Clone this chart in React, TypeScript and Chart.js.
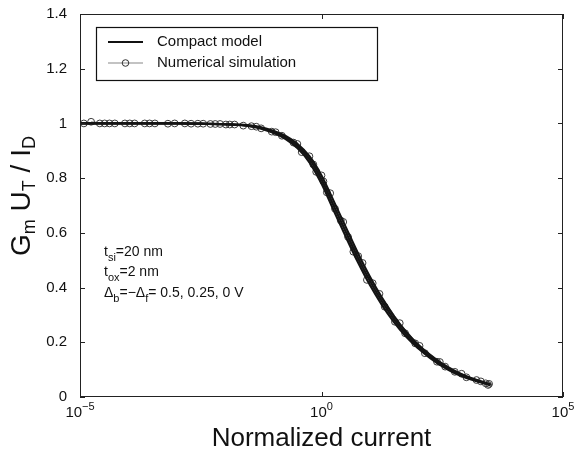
import React, { useEffect, useRef } from 'react';
import { Chart, registerables } from 'chart.js';

Chart.register(...registerables);

const FONT = '"Liberation Sans", Arial, Helvetica, sans-serif';

// log10 of normalized current for the compact-model curves
const modelLogCurrent = [-5, -4, -3, -2.5, -2, -1.5, -1.25, -1, -0.75, -0.5, -0.25, 0, 0.25, 0.5, 0.75, 1, 1.25, 1.5, 1.75, 2, 2.25, 2.5, 2.75, 3, 3.25, 3.5];
// compact model, delta = 0.5 V
const modelGain05 = [1.0, 1.0, 1.0, 0.999, 0.996, 0.99, 0.981, 0.966, 0.944, 0.91, 0.858, 0.78, 0.683, 0.587, 0.494, 0.41, 0.337, 0.274, 0.221, 0.178, 0.142, 0.112, 0.088, 0.07, 0.056, 0.043];
// compact model, delta = 0.25 V
const modelGain025 = [1.0, 1.0, 1.0, 0.999, 0.997, 0.992, 0.984, 0.97, 0.95, 0.918, 0.87, 0.795, 0.7, 0.605, 0.51, 0.425, 0.35, 0.285, 0.23, 0.185, 0.148, 0.117, 0.092, 0.073, 0.058, 0.045];
// compact model, delta = 0 V
const modelGain0 = [1.0, 1.0, 1.0, 0.999, 0.997, 0.993, 0.986, 0.973, 0.955, 0.925, 0.88, 0.81, 0.717, 0.622, 0.527, 0.44, 0.363, 0.296, 0.239, 0.192, 0.154, 0.122, 0.096, 0.076, 0.06, 0.047];

// numerical simulation points (log10 of normalized current, gain)
const simLogCurrent05 = [-4.92, -4.49, -4.07, -3.66, -3.18, -2.7, -2.3, -1.98, -1.62, -1.25, -0.82, -0.41, -0.11, 0.11, 0.4, 0.66, 0.94, 1.31, 1.73, 2.14, 2.56, 3.0, 3.45];
const simGain05 = [1.0, 1.0, 1.0, 1.0, 0.999, 0.999, 0.998, 0.996, 0.992, 0.982, 0.955, 0.895, 0.823, 0.748, 0.645, 0.531, 0.428, 0.33, 0.233, 0.16, 0.111, 0.072, 0.044];
const simLogCurrent025 = [-4.77, -4.39, -3.97, -3.56, -3.04, -2.56, -2.2, -1.9, -1.45, -1.03, -0.58, -0.17, 0.04, 0.28, 0.55, 0.76, 1.06, 1.52, 1.94, 2.39, 2.76, 3.21, 3.4];
const simGain025 = [1.006, 1.0, 1.0, 1.0, 1.0, 0.999, 0.998, 0.996, 0.99, 0.97, 0.93, 0.85, 0.788, 0.688, 0.585, 0.515, 0.416, 0.275, 0.196, 0.129, 0.092, 0.062, 0.05];
const simLogCurrent0 = [-4.59, -4.28, -3.87, -3.45, -2.83, -2.45, -2.1, -1.8, -1.35, -0.95, -0.5, -0.25, 0.0, 0.18, 0.45, 0.85, 1.2, 1.62, 2.03, 2.45, 2.9, 3.3, 3.47];
const simGain0 = [1.0, 1.0, 1.0, 1.0, 1.0, 0.999, 0.998, 0.996, 0.988, 0.968, 0.925, 0.88, 0.81, 0.745, 0.64, 0.49, 0.377, 0.27, 0.187, 0.128, 0.085, 0.057, 0.048];

const yTickValues = [0, 0.2, 0.4, 0.6, 0.8, 1.0, 1.2, 1.4];
const xTickExponents = [-5, 0, 5];
const legendLabels = ['Compact model', 'Numerical simulation'];
const xTitle = 'Normalized current';

const toPoints = (logs: number[], ys: number[]) => logs.map((l, i) => ({ x: Math.pow(10, l), y: ys[i] }));

type Part = { t: string; size: number; dy: number };

function measureParts(ctx: CanvasRenderingContext2D, parts: Part[]) {
  return parts.map((p) => {
    ctx.font = `${p.size}px ${FONT}`;
    return ctx.measureText(p.t).width;
  });
}

function drawParts(ctx: CanvasRenderingContext2D, parts: Part[], x: number, y: number, center: boolean) {
  const widths = measureParts(ctx, parts);
  const total = widths.reduce((a, b) => a + b, 0);
  let cx = center ? x - total / 2 : x;
  ctx.textAlign = 'left';
  ctx.textBaseline = 'alphabetic';
  parts.forEach((p, i) => {
    ctx.font = `${p.size}px ${FONT}`;
    ctx.fillText(p.t, cx, y + p.dy);
    cx += widths[i];
  });
}

const decorPlugin = {
  id: 'decor',
  afterDraw(chart: any) {
    const ctx: CanvasRenderingContext2D = chart.ctx;
    const { left, right, top, bottom } = chart.chartArea;
    const xs = chart.scales.x;
    const ys = chart.scales.y;
    ctx.save();
    ctx.strokeStyle = '#222';
    ctx.lineWidth = 1;
    // box
    ctx.strokeRect(left + 0.5, top + 0.5, right - left - 1, bottom - top - 1);
    // inward ticks
    ctx.beginPath();
    yTickValues.forEach((v) => {
      const py = Math.round(ys.getPixelForValue(v)) + 0.5;
      ctx.moveTo(left, py);
      ctx.lineTo(left + 5, py);
      ctx.moveTo(right, py);
      ctx.lineTo(right - 5, py);
    });
    xTickExponents.forEach((e) => {
      const px = Math.round(xs.getPixelForValue(Math.pow(10, e))) + 0.5;
      ctx.moveTo(px, bottom);
      ctx.lineTo(px, bottom - 5);
      ctx.moveTo(px, top);
      ctx.lineTo(px, top + 5);
    });
    ctx.stroke();

    ctx.fillStyle = '#111';
    // x tick labels 10^e
    xTickExponents.forEach((e) => {
      const px = xs.getPixelForValue(Math.pow(10, e));
      const sup = e < 0 ? '\u2212' + Math.abs(e) : String(e);
      drawParts(ctx, [
        { t: '10', size: 15, dy: 0 },
        { t: sup, size: 11, dy: -7 },
      ], px, bottom + 20, true);
    });

    // x title
    ctx.font = `26px ${FONT}`;
    ctx.textAlign = 'center';
    ctx.textBaseline = 'alphabetic';
    ctx.fillText(xTitle, (left + right) / 2, 446);

    // y title (rotated)
    ctx.save();
    ctx.translate(30, 196);
    ctx.rotate(-Math.PI / 2);
    drawParts(ctx, [
      { t: 'G', size: 28, dy: 0 },
      { t: 'm', size: 18, dy: 5 },
      { t: ' U', size: 28, dy: 0 },
      { t: 'T', size: 18, dy: 5 },
      { t: ' / I', size: 28, dy: 0 },
      { t: 'D', size: 18, dy: 5 },
    ], 0, 0, true);
    ctx.restore();

    // annotation
    drawParts(ctx, [
      { t: 't', size: 14, dy: 0 },
      { t: 'si', size: 11, dy: 5 },
      { t: '=20 nm', size: 14, dy: 0 },
    ], 104, 256, false);
    drawParts(ctx, [
      { t: 't', size: 14, dy: 0 },
      { t: 'ox', size: 11, dy: 5 },
      { t: '=2 nm', size: 14, dy: 0 },
    ], 104, 276, false);
    drawParts(ctx, [
      { t: '\u0394', size: 14, dy: 0 },
      { t: 'b', size: 11, dy: 5 },
      { t: '=\u2212\u0394', size: 14, dy: 0 },
      { t: 'f', size: 11, dy: 5 },
      { t: '= 0.5, 0.25, 0 V', size: 14, dy: 0 },
    ], 104, 297, false);

    // legend
    ctx.fillStyle = '#fff';
    ctx.fillRect(96, 27, 281, 53);
    ctx.strokeStyle = '#111';
    ctx.lineWidth = 1.2;
    ctx.strokeRect(96.5, 27.5, 281, 53);
    ctx.beginPath();
    ctx.strokeStyle = '#111';
    ctx.lineWidth = 2.2;
    ctx.moveTo(108, 42);
    ctx.lineTo(143, 42);
    ctx.stroke();
    ctx.beginPath();
    ctx.strokeStyle = '#888';
    ctx.lineWidth = 1.2;
    ctx.moveTo(108, 63);
    ctx.lineTo(143, 63);
    ctx.stroke();
    ctx.beginPath();
    ctx.strokeStyle = '#333';
    ctx.lineWidth = 1;
    ctx.arc(125.5, 63, 3.3, 0, Math.PI * 2);
    ctx.stroke();
    ctx.fillStyle = '#111';
    ctx.font = `15px ${FONT}`;
    ctx.textAlign = 'left';
    ctx.textBaseline = 'middle';
    ctx.fillText(legendLabels[0], 157, 42);
    ctx.fillText(legendLabels[1], 157, 63);
    ctx.restore();
  },
};

export default function App() {
  const ref = useRef<HTMLCanvasElement>(null);
  useEffect(() => {
    if (!ref.current) return;
    const modelStyle = {
      showLine: true,
      borderColor: '#141414',
      borderWidth: 2.2,
      pointRadius: 0,
      fill: false,
      tension: 0.4,
      cubicInterpolationMode: 'monotone' as const,
    };
    const simStyle = {
      showLine: true,
      borderColor: '#8a8a8a',
      borderWidth: 1,
      pointRadius: 3.4,
      pointStyle: 'circle' as const,
      pointBorderColor: '#3a3a3a',
      pointBackgroundColor: 'rgba(0,0,0,0)',
      pointBorderWidth: 1,
      fill: false,
    };
    const chart = new Chart(ref.current, {
      type: 'scatter',
      data: {
        datasets: [
          { label: legendLabels[0], data: toPoints(modelLogCurrent, modelGain05), ...modelStyle },
          { label: legendLabels[0] + ' 0.25', data: toPoints(modelLogCurrent, modelGain025), ...modelStyle },
          { label: legendLabels[0] + ' 0', data: toPoints(modelLogCurrent, modelGain0), ...modelStyle },
          { label: legendLabels[1], data: toPoints(simLogCurrent05, simGain05), ...simStyle },
          { label: legendLabels[1] + ' 0.25', data: toPoints(simLogCurrent025, simGain025), ...simStyle },
          { label: legendLabels[1] + ' 0', data: toPoints(simLogCurrent0, simGain0), ...simStyle },
        ],
      },
      options: {
        animation: false,
        responsive: true,
        maintainAspectRatio: false,
        layout: { padding: { top: 14, right: 13, left: 0, bottom: 0 } },
        plugins: { legend: { display: false }, tooltip: { enabled: false } },
        scales: {
          x: {
            type: 'logarithmic',
            position: 'bottom',
            min: 1e-5,
            max: 1e5,
            grid: { display: false },
            border: { display: false },
            ticks: { display: false },
            afterBuildTicks: (s: any) => {
              s.ticks = xTickExponents.map((e) => ({ value: Math.pow(10, e) }));
            },
            afterFit: (s: any) => {
              s.height = 56;
            },
          },
          y: {
            type: 'linear',
            min: 0,
            max: 1.4,
            grid: { display: false },
            border: { display: false },
            afterBuildTicks: (s: any) => {
              s.ticks = yTickValues.map((v) => ({ value: v }));
            },
            ticks: {
              padding: 5,
              color: '#111',
              font: { family: FONT, size: 15 },
              callback: (v: any) => String(+Number(v).toFixed(1)),
            },
            afterFit: (s: any) => {
              s.width = 80;
            },
          },
        },
      } as any,
      plugins: [decorPlugin],
    });
    return () => chart.destroy();
  }, []);
  return (
    <div style={{ position: 'absolute', left: 0, top: 0, width: 576, height: 453, background: '#fff' }}>
      <canvas ref={ref} />
    </div>
  );
}
